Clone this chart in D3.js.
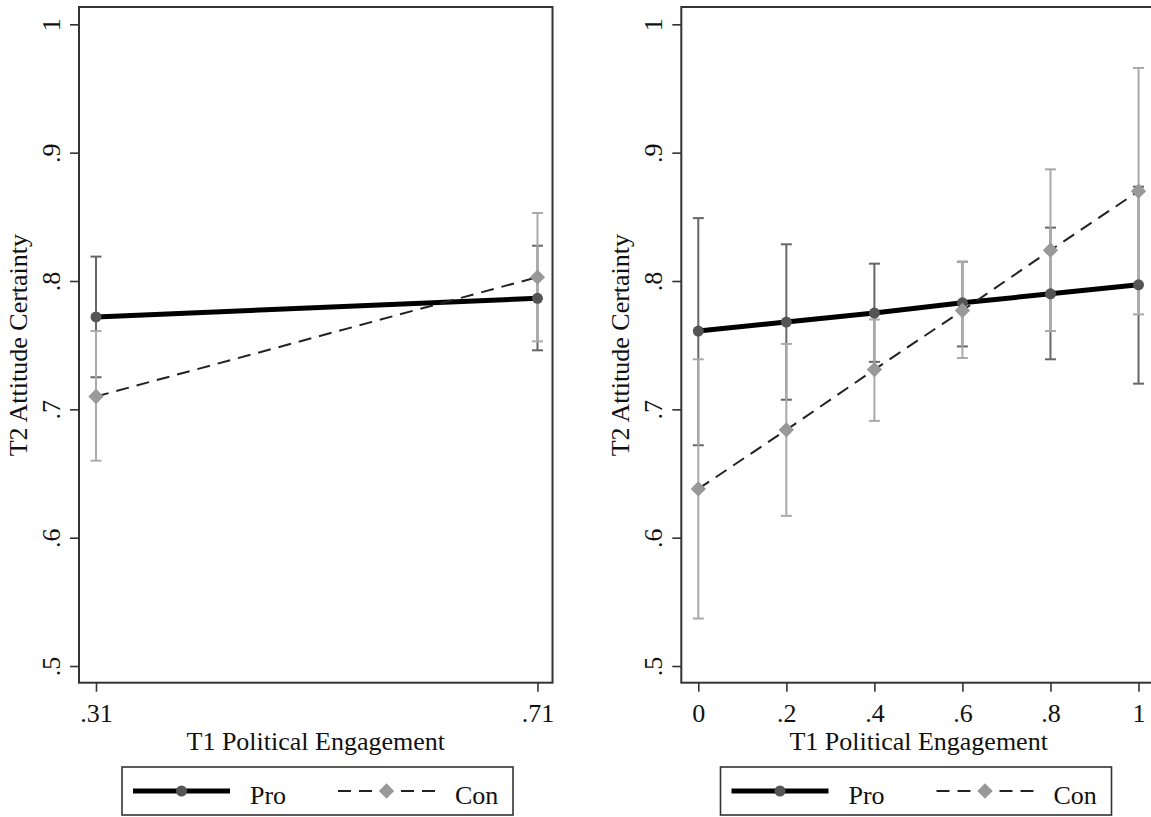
<!DOCTYPE html>
<html><head><meta charset="utf-8">
<script src="https://cdn.jsdelivr.net/npm/d3@7"></script>
<style>html,body{margin:0;padding:0;background:#fff;}svg{display:block;}</style>
</head><body>
<svg id="chart" width="1151" height="817"></svg>
<script>
// ---- data ----
const yTicks = [0.5, 0.6, 0.7, 0.8, 0.9, 1];
const leftX = [0.31, 0.71];
const leftXLabels = [".31", ".71"];
const leftPro = [0.772, 0.7865];
const leftProLo = [0.725, 0.746];
const leftProHi = [0.819, 0.8275];
const leftCon = [0.710, 0.803];
const leftConLo = [0.660, 0.753];
const leftConHi = [0.761, 0.853];

const rightX = [0, 0.2, 0.4, 0.6, 0.8, 1];
const rightXLabels = ["0", ".2", ".4", ".6", ".8", "1"];
const rightPro = [0.761, 0.768, 0.775, 0.783, 0.790, 0.797];
const rightProLo = [0.672, 0.7075, 0.737, 0.749, 0.739, 0.720];
const rightProHi = [0.849, 0.8286, 0.8135, 0.815, 0.8416, 0.8735];
const rightCon = [0.638, 0.684, 0.731, 0.777, 0.824, 0.870];
const rightConLo = [0.537, 0.617, 0.691, 0.740, 0.761, 0.774];
const rightConHi = [0.739, 0.751, 0.770, 0.815, 0.887, 0.966];

const seriesNames = ["Pro", "Con"];
const xTitle = "T1 Political Engagement";
const yTitle = "T2 Attitude Certainty";

// ---- drawing ----
const svg = d3.select("#chart");
const FONT = "'Liberation Serif','Times New Roman',serif";
const FS = 26;
const plotTop = 7, plotBottom = 682.7;

function yFmt(d){ return d === 1 ? "1" : d3.format(".1f")(d).replace(/^0/, ""); }

function panel(cfg){
  const g = svg.append("g");
  const x = d3.scaleLinear().domain(cfg.xDomain).range([cfg.left, cfg.right]);
  const y = d3.scaleLinear().domain([0.487, 1.0135]).range([plotBottom, plotTop]);

  // frame
  g.append("rect").attr("x", cfg.left).attr("y", plotTop)
    .attr("width", cfg.right - cfg.left).attr("height", plotBottom - plotTop)
    .attr("fill", "none").attr("stroke", "#333").attr("stroke-width", 2);

  // y axis
  const ya = g.append("g").attr("transform", `translate(${cfg.left},0)`)
    .call(d3.axisLeft(y).tickValues(yTicks).tickSize(9).tickFormat(yFmt));
  ya.select(".domain").remove();
  ya.selectAll(".tick line").attr("stroke", "#333").attr("stroke-width", 1.6);
  ya.selectAll(".tick text").attr("transform", "rotate(-90)")
    .attr("x", 0).attr("y", -19).attr("dy", 0)
    .attr("text-anchor", "middle").attr("font-family", FONT).attr("font-size", FS).attr("fill", "#111");

  // x axis
  const xa = g.append("g").attr("transform", `translate(0,${plotBottom})`)
    .call(d3.axisBottom(x).tickValues(cfg.xVals).tickSize(9).tickFormat((d,i) => cfg.xLabels[i]));
  xa.select(".domain").remove();
  xa.selectAll(".tick line").attr("stroke", "#333").attr("stroke-width", 1.6);
  xa.selectAll(".tick text").attr("y", 39).attr("dy", 0)
    .attr("font-family", FONT).attr("font-size", FS).attr("fill", "#111");

  // titles
  g.append("text").attr("x", (cfg.left + cfg.right) / 2).attr("y", 750)
    .attr("text-anchor", "middle").attr("font-family", FONT).attr("font-size", FS).attr("fill", "#111")
    .text(xTitle);
  g.append("text").attr("transform", `translate(${cfg.left - 52},${(y(1) + y(0.5)) / 2}) rotate(-90)`)
    .attr("text-anchor", "middle").attr("font-family", FONT).attr("font-size", FS).attr("fill", "#111")
    .text(yTitle);

  const capW = 5.5;
  function caps(vals, lo, hi, color){
    const cg = g.append("g").attr("stroke", color).attr("stroke-width", 2).attr("fill", "none");
    vals.forEach((v, i) => {
      const px = x(cfg.xVals[i]);
      cg.append("line").attr("x1", px).attr("x2", px).attr("y1", y(lo[i])).attr("y2", y(hi[i]));
      cg.append("line").attr("x1", px - capW).attr("x2", px + capW).attr("y1", y(lo[i])).attr("y2", y(lo[i]));
      cg.append("line").attr("x1", px - capW).attr("x2", px + capW).attr("y1", y(hi[i])).attr("y2", y(hi[i]));
    });
  }
  caps(cfg.pro, cfg.proLo, cfg.proHi, "#666");
  caps(cfg.con, cfg.conLo, cfg.conHi, "#aaa");

  const line = d3.line().x((d, i) => x(cfg.xVals[i])).y(d => y(d));
  g.append("path").datum(cfg.pro).attr("d", line).attr("fill", "none")
    .attr("stroke", "#000").attr("stroke-width", 5);
  g.selectAll(null).data(cfg.pro).enter().append("circle")
    .attr("cx", (d, i) => x(cfg.xVals[i])).attr("cy", d => y(d)).attr("r", 5.5).attr("fill", "#555");
  g.append("path").datum(cfg.con).attr("d", line).attr("fill", "none")
    .attr("stroke", "#222").attr("stroke-width", 2).attr("stroke-dasharray", "13,8");
  const dia = d3.symbol().type(d3.symbolDiamond2).size(150);
  g.selectAll(null).data(cfg.con).enter().append("path")
    .attr("d", dia).attr("transform", (d, i) => `translate(${x(cfg.xVals[i])},${y(d)})`).attr("fill", "#999");

  // legend
  const lc = cfg.legendCenter;
  const lw = 391, lh = 48, ly = 767;
  const lg = g.append("g").attr("transform", `translate(${lc - lw / 2},${ly})`);
  lg.append("rect").attr("width", lw).attr("height", lh).attr("fill", "#fff")
    .attr("stroke", "#333").attr("stroke-width", 1.6);
  lg.append("line").attr("x1", 11).attr("x2", 108).attr("y1", 24).attr("y2", 24)
    .attr("stroke", "#000").attr("stroke-width", 5);
  lg.append("circle").attr("cx", 59.5).attr("cy", 24).attr("r", 5.5).attr("fill", "#555");
  lg.append("text").attr("x", 128).attr("y", 37).attr("font-family", FONT).attr("font-size", FS).attr("fill", "#111").text(seriesNames[0]);
  lg.append("line").attr("x1", 216).attr("x2", 313).attr("y1", 24).attr("y2", 24)
    .attr("stroke", "#222").attr("stroke-width", 2).attr("stroke-dasharray", "13,8");
  lg.append("path").attr("d", dia).attr("transform", "translate(264.5,24)").attr("fill", "#999");
  lg.append("text").attr("x", 333).attr("y", 37).attr("font-family", FONT).attr("font-size", FS).attr("fill", "#111").text(seriesNames[1]);
}

panel({left: 79, right: 552.5, xDomain: [0.2946, 0.7236], xVals: leftX, xLabels: leftXLabels,
  pro: leftPro, proLo: leftProLo, proHi: leftProHi, con: leftCon, conLo: leftConLo, conHi: leftConHi,
  legendCenter: 317.5});
panel({left: 681.3, right: 1156, xDomain: [-0.0386, 1.0397], xVals: rightX, xLabels: rightXLabels,
  pro: rightPro, proLo: rightProLo, proHi: rightProHi, con: rightCon, conLo: rightConLo, conHi: rightConHi,
  legendCenter: 916});
</script>
</body></html>
